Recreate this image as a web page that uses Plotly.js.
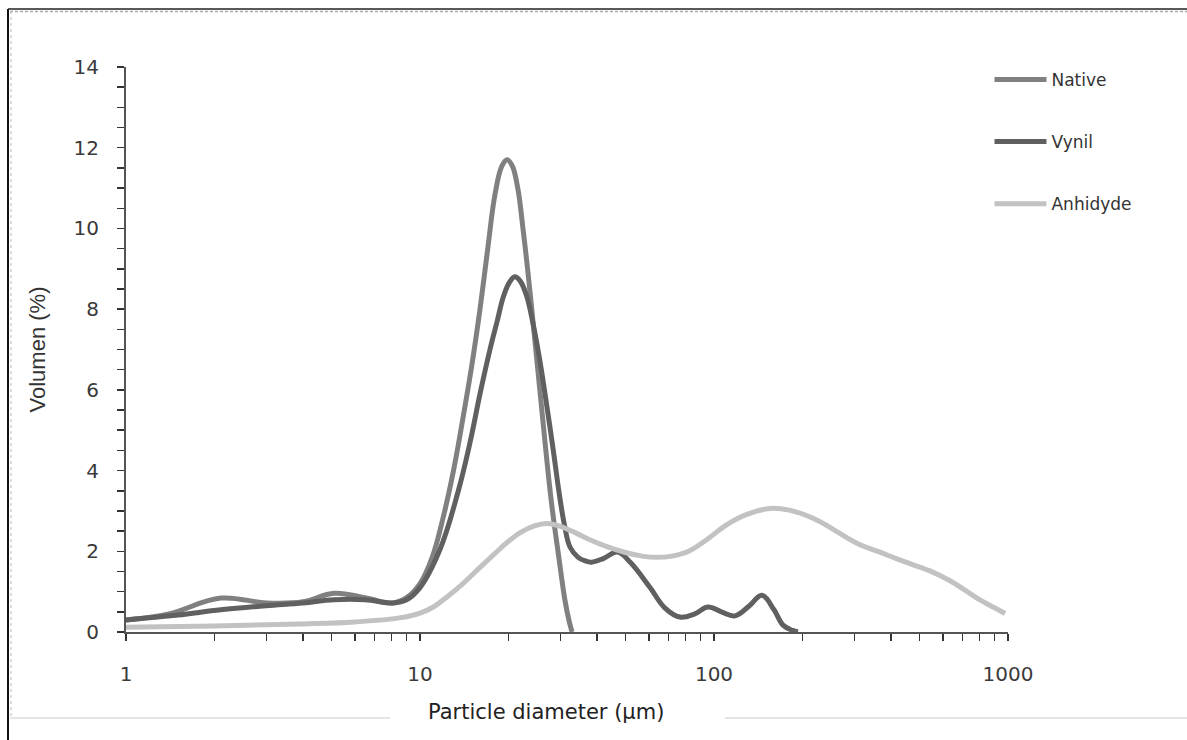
<!DOCTYPE html>
<html>
<head>
<meta charset="utf-8">
<script src="https://cdn.plot.ly/plotly-3.0.1.min.js"></script>
<style>
  html, body { margin: 0; padding: 0; background: #ffffff; }
  #chart { width: 1187px; height: 740px; }
</style>
</head>
<body>
<div id="chart"></div>
<script>
// Series names
const seriesNames = ["Native", "Vynil", "Anhidyde"];

// Native
const nativeX = [1, 1.4, 2.1, 3, 4, 5.1, 6.5, 8.1, 9.0, 10.0, 11.0, 12.0, 13.0, 14.0, 15.0, 16.0, 17.0, 18.0, 19.0, 19.8, 20.6, 21.5, 22.4, 23.3, 24.3, 25.8, 27.9, 29.6, 31.1, 32.2, 32.9];
const nativeY = [0.3, 0.45, 0.84, 0.72, 0.75, 0.96, 0.85, 0.72, 0.85, 1.2, 1.85, 2.85, 4.0, 5.3, 6.6, 8.0, 9.5, 10.85, 11.55, 11.7, 11.55, 11.0, 10.0, 8.9, 7.6, 5.7, 3.3, 1.9, 0.8, 0.25, 0];

// Vynil
const vynilX = [1, 1.5, 2.1, 3, 4, 5.1, 6.5, 8.1, 9, 10, 11.7, 13.5, 14.8, 16.0, 17.3, 18.3, 19.2, 20.1, 21.0, 21.9, 23.0, 24.3, 25.6, 27.0, 28.4, 29.8, 31.0, 32.4, 34.5, 36.5, 38.3, 42, 47, 52, 60.6, 68, 76.6, 86, 95.4, 106, 117.9, 132, 145.6, 160, 171.7, 185, 193];
const vynilY = [0.3, 0.42, 0.55, 0.65, 0.72, 0.8, 0.8, 0.72, 0.8, 1.1, 2.05, 3.5, 4.7, 5.9, 7.0, 7.7, 8.3, 8.65, 8.8, 8.7, 8.35, 7.6, 6.7, 5.6, 4.5, 3.4, 2.65, 2.1, 1.85, 1.76, 1.73, 1.82, 1.98, 1.72, 1.1, 0.6, 0.37, 0.45, 0.62, 0.5, 0.4, 0.65, 0.91, 0.55, 0.17, 0.04, 0];

// Anhidyde
const anhX = [1, 2, 4, 6, 8.5, 10, 11.1, 12.5, 14, 16, 18, 20, 22, 24.5, 27, 30, 34, 38, 43, 50, 57, 64, 72, 82, 95, 110, 130, 155, 180, 220, 260, 310, 376, 430, 540, 635, 720, 800, 900, 977];
const anhY = [0.12, 0.15, 0.2, 0.25, 0.35, 0.47, 0.62, 0.9, 1.2, 1.6, 1.95, 2.25, 2.47, 2.63, 2.69, 2.62, 2.45, 2.28, 2.12, 1.97, 1.88, 1.85, 1.88, 2.0, 2.3, 2.65, 2.92, 3.06, 3.02, 2.8, 2.5, 2.18, 1.95, 1.78, 1.52, 1.27, 1.02, 0.8, 0.6, 0.46];

// X tick labels (log axis)
const xTickVals = [1,2,3,4,5,6,7,8,9,10,20,30,40,50,60,70,80,90,100,200,300,400,500,600,700,800,900,1000];
const xTickText = ["1","","","","","","","","","10","","","","","","","","","100","","","","","","","","","1000"];

const colors = ["#808080", "#606060", "#c2c2c2"];

const traces = [
  {x: nativeX, y: nativeY, name: seriesNames[0], legendgroup: "a"},
  {x: vynilX, y: vynilY, name: seriesNames[1], legendgroup: "b"},
  {x: anhX, y: anhY, name: seriesNames[2], legendgroup: "c"}
].map((t, i) => Object.assign(t, {
  type: "scatter",
  mode: "lines",
  line: {color: colors[i], width: 5, shape: "spline", smoothing: 1.1},
  hoverinfo: "x+y+name"
}));

const axisFont = {family: "DejaVu Sans, Verdana, sans-serif", size: 20, color: "#3a3a3a"};

const layout = {
  width: 1187,
  height: 740,
  margin: {l: 126, r: 179, t: 67, b: 108},
  paper_bgcolor: "#ffffff",
  plot_bgcolor: "#ffffff",
  showlegend: true,
  legend: {
    x: 0.979, y: 1.009, xanchor: "left", yanchor: "top",
    font: {family: "DejaVu Sans, Verdana, sans-serif", size: 17, color: "#333333"},
    tracegroupgap: 37,
    itemwidth: 52,
    bgcolor: "rgba(0,0,0,0)"
  },
  xaxis: {
    type: "log",
    range: [0, 3],
    tickvals: xTickVals,
    ticktext: xTickText,
    ticks: "outside",
    ticklen: 7,
    tickwidth: 1.5,
    tickcolor: "#333333",
    showline: true,
    linecolor: "#555555",
    linewidth: 2,
    showgrid: false,
    zeroline: false,
    tickfont: axisFont,
    ticklabelstandoff: 16
  },
  yaxis: {
    range: [0, 14],
    dtick: 2,
    tick0: 0,
    ticks: "outside",
    ticklen: 7,
    tickwidth: 1.5,
    tickcolor: "#333333",
    showline: true,
    linecolor: "#555555",
    linewidth: 2,
    showgrid: false,
    zeroline: false,
    tickfont: axisFont,
    ticklabelstandoff: 14,
    minor: {dtick: 0.5, ticks: "outside", ticklen: 7, tickwidth: 1.5, tickcolor: "#333333", showgrid: false},
    title: {
      text: "Volumen (%)",
      font: {family: "Liberation Sans, Arial, sans-serif", size: 22, color: "#333333"},
      standoff: 22
    }
  },
  annotations: [
    {
      text: "Particle diameter (µm)",
      xref: "paper", yref: "paper",
      x: (546 - 126) / 882, y: (632 - 712) / 565,
      xanchor: "center", yanchor: "middle",
      showarrow: false,
      font: {family: "DejaVu Sans, Verdana, sans-serif", size: 21, color: "#222222"}
    }
  ],
  shapes: [
    {type: "line", xref: "paper", yref: "paper", x0: (8 - 126) / 882, x1: (8 - 126) / 882, y0: (632 - 9) / 565, y1: (632 - 740) / 565, line: {color: "#111111", width: 2}},
    {type: "line", xref: "paper", yref: "paper", x0: (8 - 126) / 882, x1: (1187 - 126) / 882, y0: (632 - 9) / 565, y1: (632 - 9) / 565, line: {color: "#222222", width: 1.5}},
    {type: "line", xref: "paper", yref: "paper", x0: (10 - 126) / 882, x1: (1187 - 126) / 882, y0: (632 - 11.5) / 565, y1: (632 - 11.5) / 565, line: {color: "#aaaaaa", width: 1.5, dash: "3px,2px"}},
    {type: "line", xref: "paper", yref: "paper", x0: (11 - 126) / 882, x1: (11 - 126) / 882, y0: (632 - 11) / 565, y1: (632 - 718) / 565, line: {color: "#bbbbbb", width: 1, dash: "dot"}},
    {type: "line", xref: "paper", yref: "paper", x0: (10 - 126) / 882, x1: (390 - 126) / 882, y0: (632 - 718) / 565, y1: (632 - 718) / 565, line: {color: "#dddddd", width: 1.5}},
    {type: "line", xref: "paper", yref: "paper", x0: (725 - 126) / 882, x1: (1187 - 126) / 882, y0: (632 - 718) / 565, y1: (632 - 718) / 565, line: {color: "#dddddd", width: 1.5}}
  ]
};

Plotly.newPlot("chart", traces, layout, {displayModeBar: false, staticPlot: true});
</script>
</body>
</html>
